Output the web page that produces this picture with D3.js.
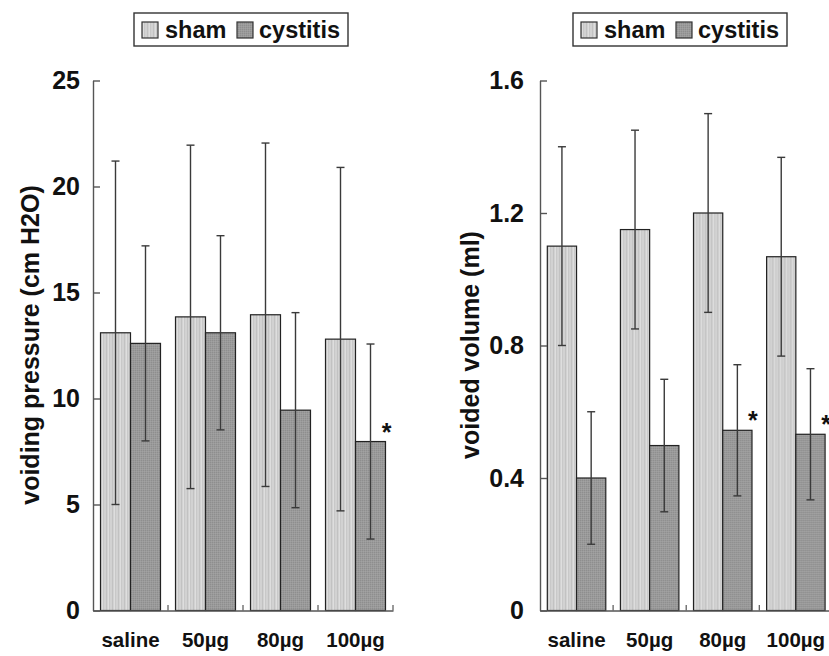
<!DOCTYPE html>
<html><head><meta charset="utf-8">
<script src="https://cdn.jsdelivr.net/npm/d3@7"></script>
<style>
html,body{margin:0;padding:0;background:#fff;}
svg{display:block;font-family:"Liberation Sans",Arial,sans-serif;font-weight:bold;}
</style></head>
<body>
<svg id="c" width="829" height="656"></svg>
<script>
const categories = ["saline", "50\u00b5g", "80\u00b5g", "100\u00b5g"];
const seriesNames = ["sham", "cystitis"];
// left panel: voiding pressure (cm H2O)
const pressureSham = [13.1, 13.85, 13.95, 12.8];
const pressureShamSD = [8.1, 8.1, 8.1, 8.1];
const pressureCystitis = [12.6, 13.1, 9.45, 7.97];
const pressureCystitisSD = [4.6, 4.58, 4.6, 4.6];
const pressureSig = [false, false, false, true];
const pressureTicks = [0, 5, 10, 15, 20, 25];
// right panel: voided volume (ml)
const volumeSham = [1.10, 1.15, 1.20, 1.068];
const volumeShamSD = [0.30, 0.30, 0.30, 0.30];
const volumeCystitis = [0.40, 0.498, 0.544, 0.532];
const volumeCystitisSD = [0.20, 0.20, 0.198, 0.198];
const volumeSig = [false, false, true, true];
const volumeTicks = [0, 0.4, 0.8, 1.2, 1.6];

const svg = d3.select("#c");
const defs = svg.append("defs");
// sham: light grey with vertical stripes
const p1 = defs.append("pattern").attr("id","pSham").attr("patternUnits","userSpaceOnUse")
  .attr("width",6).attr("height",4);
p1.append("rect").attr("width",6).attr("height",4).attr("fill","#d2d2d2");
p1.append("rect").attr("x",1).attr("width",1).attr("height",4).attr("fill","#c2c2c2");
p1.append("rect").attr("x",3).attr("width",1).attr("height",4).attr("fill","#dedede");
p1.append("rect").attr("x",4).attr("width",1).attr("height",4).attr("fill","#c8c8c8");
// cystitis: darker grey fine dither
const p2 = defs.append("pattern").attr("id","pCys").attr("patternUnits","userSpaceOnUse")
  .attr("width",2).attr("height",2);
p2.append("rect").attr("width",2).attr("height",2).attr("fill","#9a9a9a");
p2.append("rect").attr("width",1).attr("height",1).attr("fill","#8e8e8e");
p2.append("rect").attr("x",1).attr("y",1).attr("width",1).attr("height",1).attr("fill","#a2a2a2");
const fills = {sham:"url(#pSham)", cystitis:"url(#pCys)"};

function panel(cfg){
  const g = svg.append("g");
  const y = d3.scaleLinear().domain(cfg.domain).range([610.5, 80.5]);
  const x = d3.scaleBand().domain(categories).range(cfg.xr).padding(0);
  const x1 = d3.scaleBand().domain(seriesNames)
    .range([x.step()*0.1, x.step()*0.9]).padding(0);
  const rows = categories.map((c,i)=>({
    cat:c, sig:cfg.sig[i],
    vals:[{s:"sham", v:cfg.sham[i], sd:cfg.shamSD[i]},
          {s:"cystitis", v:cfg.cys[i], sd:cfg.cysSD[i]}]
  }));
  const grp = g.selectAll("g.cat").data(rows).enter().append("g")
    .attr("transform", d=>`translate(${x(d.cat)},0)`);
  grp.selectAll("rect").data(d=>d.vals).enter().append("rect")
    .attr("x", d=>x1(d.s)).attr("width", x1.bandwidth())
    .attr("y", d=>y(d.v)).attr("height", d=>y(0)-y(d.v))
    .attr("fill", d=>fills[d.s]).attr("stroke","#222").attr("stroke-width",1.2);
  const eb = grp.selectAll("g.eb").data(d=>d.vals).enter().append("g")
    .attr("stroke","#3a3a3a").attr("stroke-width",1.4);
  eb.append("line").attr("x1",d=>x1(d.s)+x1.bandwidth()/2).attr("x2",d=>x1(d.s)+x1.bandwidth()/2)
    .attr("y1",d=>y(d.v+d.sd)).attr("y2",d=>y(d.v-d.sd));
  [1,-1].forEach(k=>{
    eb.append("line").attr("x1",d=>x1(d.s)+x1.bandwidth()/2-4).attr("x2",d=>x1(d.s)+x1.bandwidth()/2+4)
      .attr("y1",d=>y(d.v+k*d.sd)).attr("y2",d=>y(d.v+k*d.sd));
  });
  grp.filter(d=>d.sig).append("text")
    .attr("x", x1("cystitis")+x1.bandwidth()+1)
    .attr("y", d=>y(d.vals[1].v)-1)
    .attr("text-anchor","middle").attr("font-size",25).attr("fill","#111").text("*");

  // y axis
  const ya = g.append("g").attr("transform",`translate(${cfg.xr[0]},0)`)
    .call(d3.axisLeft(y).tickValues(cfg.ticks).tickSize(-7).tickSizeOuter(0)
      .tickPadding(cfg.tickPad).tickFormat(d3.format(cfg.fmt)));
  ya.selectAll("path,line").attr("stroke","#555").attr("stroke-width",1.4);
  ya.selectAll("text").attr("font-size",25).attr("fill","#111")
    .attr("font-family","'Liberation Sans',Arial,sans-serif").attr("font-weight","bold");
  // x axis
  const xa = g.append("g").attr("transform","translate(0,610.5)")
    .call(d3.axisBottom(x).tickSize(0).tickPadding(22));
  xa.select("path").attr("stroke","#555").attr("stroke-width",1.4);
  xa.selectAll("text").attr("font-size",20.5).attr("fill","#111")
    .attr("font-family","'Liberation Sans',Arial,sans-serif").attr("font-weight","bold");
  g.selectAll("line.bt").data(categories).enter().append("line").attr("class","bt")
    .attr("x1",d=>x(d)+x.step()).attr("x2",d=>x(d)+x.step())
    .attr("y1",610.5).attr("y2",605).attr("stroke","#555").attr("stroke-width",1.2);
  // y title
  g.append("text").attr("transform",`translate(${cfg.titleX},${cfg.titleY}) rotate(-90)`)
    .attr("text-anchor","middle").attr("font-size",25).attr("fill","#111").text(cfg.title);
  // legend
  const lg = g.append("g").attr("transform",`translate(${cfg.legX},13)`);
  lg.append("rect").attr("width",214).attr("height",33).attr("fill","#fff")
    .attr("stroke","#333").attr("stroke-width",1.4);
  const items = [{s:"sham", sx:8, tx:31},{s:"cystitis", sx:103, tx:125}];
  items.forEach(it=>{
    lg.append("rect").attr("x",it.sx).attr("y",9).attr("width",16).attr("height",16)
      .attr("fill",fills[it.s]).attr("stroke","#333").attr("stroke-width",1.2);
    lg.append("text").attr("x",it.tx).attr("y",25).attr("font-size",23.5).attr("fill","#111").text(it.s);
  });
}

panel({domain:[0,25], xr:[93,393], sham:pressureSham, shamSD:pressureShamSD,
  cys:pressureCystitis, cysSD:pressureCystitisSD, sig:pressureSig, ticks:pressureTicks,
  fmt:"d", tickPad:13, title:"voiding pressure (cm H2O)", titleX:39, titleY:345, legX:134});
panel({domain:[0,1.6], xr:[540,832.4], sham:volumeSham, shamSD:volumeShamSD,
  cys:volumeCystitis, cysSD:volumeCystitisSD, sig:volumeSig, ticks:volumeTicks,
  fmt:"", tickPad:16, title:"voided volume (ml)", titleX:479, titleY:345, legX:573});
</script>
</body></html>
